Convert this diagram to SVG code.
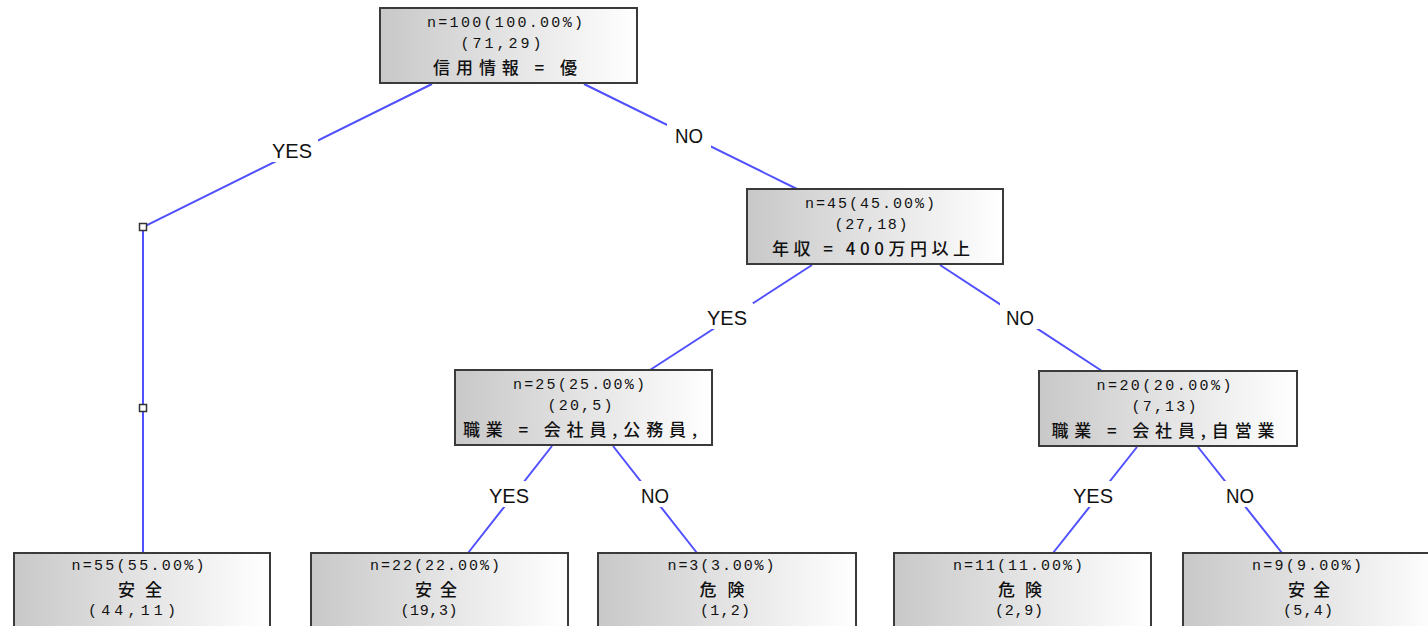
<svg xmlns="http://www.w3.org/2000/svg" width="1428" height="626" viewBox="0 0 1428 626">
  <defs>
    <linearGradient id="boxFill" x1="0" y1="0" x2="1" y2="0">
      <stop offset="0" stop-color="#c8c8c8"/>
      <stop offset="1" stop-color="#ffffff"/>
    </linearGradient>
    <style>
      .box { fill: url(#boxFill); stroke: #3a3a3a; stroke-width: 2; }
      .t1 { font-family: "Liberation Mono", "Noto Sans CJK JP", monospace; font-size: 15px; fill: #111; text-anchor: middle; }
      .t2 { font-family: "Noto Sans CJK JP", "Liberation Sans", sans-serif; font-size: 17px; font-weight: 500; fill: #111; text-anchor: middle; }
      .edge { fill: none; stroke: #5050ff; stroke-width: 2; }
      .lblbg { fill: #ffffff; }
      .lbl { font-family: "Liberation Sans", Arial, sans-serif; font-size: 21px; fill: #111; text-anchor: middle; }
      .wp { fill: #ffffff; stroke: #333; stroke-width: 1.5; }
    </style>
  </defs>
  <rect width="1428" height="626" fill="#ffffff"/>

  <!-- connectors -->
  <g id="connectors">
    <polyline class="edge" points="432,84 143,227 143,553"/>
    <line class="edge" x1="584" y1="84" x2="797" y2="189"/>
    <line class="edge" x1="812" y1="265" x2="650" y2="370"/>
    <line class="edge" x1="940" y1="265" x2="1102" y2="371"/>
    <line class="edge" x1="552" y1="446" x2="468" y2="553"/>
    <line class="edge" x1="613" y1="446" x2="697" y2="553"/>
    <line class="edge" x1="1137" y1="447" x2="1053" y2="553"/>
    <line class="edge" x1="1198" y1="447" x2="1282" y2="553"/>

    <rect class="wp" x="139.5" y="223.5" width="7" height="7"/>
    <rect class="wp" x="139.5" y="404.5" width="7" height="7"/>

    <rect class="lblbg" x="266" y="136" width="52" height="26"/>
    <text class="lbl" x="292" y="158" textLength="40" lengthAdjust="spacingAndGlyphs">YES</text>
    <rect class="lblbg" x="667" y="122" width="44" height="26"/>
    <text class="lbl" x="689" y="143" textLength="28" lengthAdjust="spacingAndGlyphs">NO</text>
    <rect class="lblbg" x="701" y="303" width="52" height="26"/>
    <text class="lbl" x="727" y="325" textLength="40" lengthAdjust="spacingAndGlyphs">YES</text>
    <rect class="lblbg" x="1000" y="303" width="40" height="26"/>
    <text class="lbl" x="1020" y="325" textLength="28" lengthAdjust="spacingAndGlyphs">NO</text>
    <rect class="lblbg" x="483" y="481" width="52" height="26"/>
    <text class="lbl" x="509" y="503" textLength="40" lengthAdjust="spacingAndGlyphs">YES</text>
    <rect class="lblbg" x="635" y="481" width="40" height="26"/>
    <text class="lbl" x="655" y="503" textLength="28" lengthAdjust="spacingAndGlyphs">NO</text>
    <rect class="lblbg" x="1067" y="481" width="52" height="26"/>
    <text class="lbl" x="1093" y="503" textLength="40" lengthAdjust="spacingAndGlyphs">YES</text>
    <rect class="lblbg" x="1220" y="481" width="40" height="26"/>
    <text class="lbl" x="1240" y="503" textLength="28" lengthAdjust="spacingAndGlyphs">NO</text>
  </g>

  <!-- split nodes -->
  <g id="node-root">
    <rect class="box" x="380" y="8" width="257" height="75"/>
    <text class="t1" x="505" y="27" textLength="156" lengthAdjust="spacing">n=100(100.00%)</text>
    <text class="t1" x="501" y="48" textLength="81" lengthAdjust="spacing">(71,29)</text>
    <text class="t2" x="505" y="74" textLength="144" lengthAdjust="spacing">信用情報 = 優</text>
  </g>
  <g id="node-income">
    <rect class="box" x="747" y="189" width="256" height="75"/>
    <text class="t1" x="870" y="208" textLength="130" lengthAdjust="spacing">n=45(45.00%)</text>
    <text class="t1" x="871" y="229" textLength="73" lengthAdjust="spacing">(27,18)</text>
    <text class="t2" x="871" y="255" textLength="198" lengthAdjust="spacing">年収 = 400万円以上</text>
  </g>
  <g id="node-job-a">
    <rect class="box" x="455" y="370" width="257" height="75"/>
    <text class="t1" x="579" y="389" textLength="132" lengthAdjust="spacing">n=25(25.00%)</text>
    <text class="t1" x="580" y="410" textLength="65" lengthAdjust="spacing">(20,5)</text>
    <text class="t2" x="580" y="436" textLength="234" lengthAdjust="spacing">職業 = 会社員,公務員,</text>
  </g>
  <g id="node-job-b">
    <rect class="box" x="1039" y="371" width="258" height="75"/>
    <text class="t1" x="1164" y="390" textLength="135" lengthAdjust="spacing">n=20(20.00%)</text>
    <text class="t1" x="1164" y="411" textLength="65" lengthAdjust="spacing">(7,13)</text>
    <text class="t2" x="1163" y="437" textLength="223" lengthAdjust="spacing">職業 = 会社員,自営業</text>
  </g>

  <!-- leaf nodes -->
  <g id="leaf-55">
    <rect class="box" x="14" y="553" width="256" height="80"/>
    <text class="t1" x="138" y="570" textLength="133" lengthAdjust="spacing">n=55(55.00%)</text>
    <text class="t2" x="140" y="596" textLength="44" lengthAdjust="spacing">安全</text>
    <text class="t1" x="132" y="615" textLength="88" lengthAdjust="spacing">(44,11)</text>
  </g>
  <g id="leaf-22">
    <rect class="box" x="311" y="553" width="257" height="80"/>
    <text class="t1" x="435" y="570" textLength="130" lengthAdjust="spacing">n=22(22.00%)</text>
    <text class="t2" x="436" y="596" textLength="42" lengthAdjust="spacing">安全</text>
    <text class="t1" x="429" y="615" textLength="57" lengthAdjust="spacing">(19,3)</text>
  </g>
  <g id="leaf-3">
    <rect class="box" x="598" y="553" width="258" height="80"/>
    <text class="t1" x="721" y="570" textLength="107" lengthAdjust="spacing">n=3(3.00%)</text>
    <text class="t2" x="722" y="596" textLength="45" lengthAdjust="spacing">危険</text>
    <text class="t1" x="725" y="615" textLength="50" lengthAdjust="spacing">(1,2)</text>
  </g>
  <g id="leaf-11">
    <rect class="box" x="894" y="553" width="257" height="80"/>
    <text class="t1" x="1018" y="570" textLength="130" lengthAdjust="spacing">n=11(11.00%)</text>
    <text class="t2" x="1020" y="596" textLength="44" lengthAdjust="spacing">危険</text>
    <text class="t1" x="1019" y="615" textLength="48" lengthAdjust="spacing">(2,9)</text>
  </g>
  <g id="leaf-9">
    <rect class="box" x="1183" y="553" width="258" height="80"/>
    <text class="t1" x="1307" y="570" textLength="110" lengthAdjust="spacing">n=9(9.00%)</text>
    <text class="t2" x="1309" y="596" textLength="42" lengthAdjust="spacing">安全</text>
    <text class="t1" x="1308" y="615" textLength="50" lengthAdjust="spacing">(5,4)</text>
  </g>
</svg>
